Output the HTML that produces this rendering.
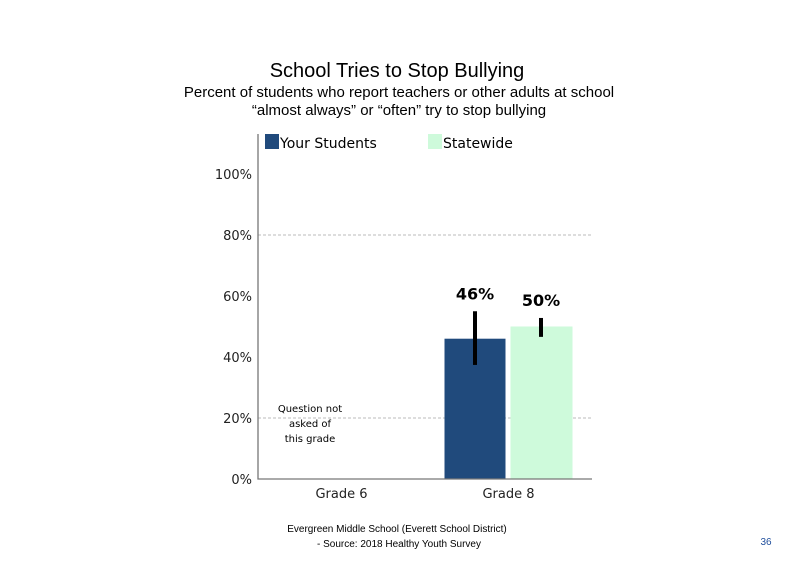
<!DOCTYPE html>
<html><head><meta charset="utf-8"><style>
body{margin:0;background:#fff;width:800px;height:568px;overflow:hidden;font-family:"Liberation Sans",sans-serif}
</style></head><body>
<svg width="800" height="568">
<text x="397" y="77" text-anchor="middle" font-size="20">School Tries to Stop Bullying</text>
<text x="399" y="97" text-anchor="middle" font-size="15">Percent of students who report teachers or other adults at school</text>
<text x="399" y="115" text-anchor="middle" font-size="15">“almost always” or “often” try to stop bullying</text>
<g id="plot" font-family="DejaVu Sans, sans-serif"></g>
<rect x="265" y="134" width="14" height="15" fill="#204a7c"/>
<text x="280" y="148" font-size="14" font-family="DejaVu Sans, sans-serif">Your Students</text>
<rect x="428" y="134" width="14" height="15" fill="#cefadb"/>
<text x="443" y="148" font-size="14" font-family="DejaVu Sans, sans-serif">Statewide</text>
<text x="310" y="412" text-anchor="middle" font-size="10" font-family="DejaVu Sans, sans-serif"><tspan x="310">Question not</tspan><tspan x="310" dy="15">asked of</tspan><tspan x="310" dy="15">this grade</tspan></text>
<text x="397" y="532" text-anchor="middle" font-size="10">Evergreen Middle  School (Everett School District)</text>
<text x="399" y="547" text-anchor="middle" font-size="10">- Source: 2018 Healthy  Youth Survey</text>
<text x="766" y="545" text-anchor="middle" font-size="10" fill="#1f4e9c">36</text>
</svg>
<script>
const categories=["Grade 6","Grade 8"];
const yourValues=[null,46];
const stateValues=[null,50];
const yourErrLow=[null,37.4];
const yourErrHigh=[null,55];
const stateErrLow=[null,46.6];
const stateErrHigh=[null,52.8];
const yourLabels=[null,"46%"];
const stateLabels=[null,"50%"];
const yTicks=[0,20,40,60,80,100];
const gridTicks=[20,80];
const NS="http://www.w3.org/2000/svg";
const g=document.getElementById('plot');
const X0=258,X1=592,Y0=479;
const y=v=>Y0-v*3.05;
const bandW=(X1-X0)/categories.length;
const cx=i=>X0+bandW*(i+0.5);
function mk(t,a){const e=document.createElementNS(NS,t);for(const k in a)e.setAttribute(k,a[k]);g.appendChild(e);return e;}
gridTicks.forEach(v=>{const l=mk('line',{x1:X0,x2:X1,y1:y(v),y2:y(v),stroke:'#bbb','stroke-dasharray':'3,2'});

});
yTicks.forEach(v=>{const t=mk('text',{x:X0-6,y:y(v)+5,'text-anchor':'end','font-size':13,fill:'#222'});t.textContent=v+'%';

});
categories.forEach((c,i)=>{const t=mk('text',{x:cx(i),y:498,'text-anchor':'middle','font-size':13,fill:'#222'});t.textContent=c;


const bw=61;
if(yourValues[i]!=null){
const r=mk('rect',{x:cx(i)-bw-3,y:y(yourValues[i]),width:bw,height:Y0-y(yourValues[i]),fill:'#204a7c'});


const e=mk('line',{x1:cx(i)-bw/2-3,x2:cx(i)-bw/2-3,y1:y(yourErrHigh[i]),y2:y(yourErrLow[i]),stroke:'#000','stroke-width':4});


const l=mk('text',{x:cx(i)-bw/2-3,y:y(yourErrHigh[i])-12,'text-anchor':'middle','font-size':16,'font-weight':'bold'});l.textContent=yourLabels[i];

}
if(stateValues[i]!=null){
const r=mk('rect',{x:cx(i)+2,y:y(stateValues[i]),width:bw+1,height:Y0-y(stateValues[i]),fill:'#cefadb'});


const e=mk('line',{x1:cx(i)+bw/2+2,x2:cx(i)+bw/2+2,y1:y(stateErrHigh[i]),y2:y(stateErrLow[i]),stroke:'#000','stroke-width':4});


const l=mk('text',{x:cx(i)+bw/2+2,y:y(stateErrHigh[i])-12,'text-anchor':'middle','font-size':16,'font-weight':'bold'});l.textContent=stateLabels[i];

}
});
const ax=mk('path',{d:`M${X0} 134 V${Y0} H${X1}`,fill:'none',stroke:'#777','stroke-width':1.3});


</script>
</body></html>
